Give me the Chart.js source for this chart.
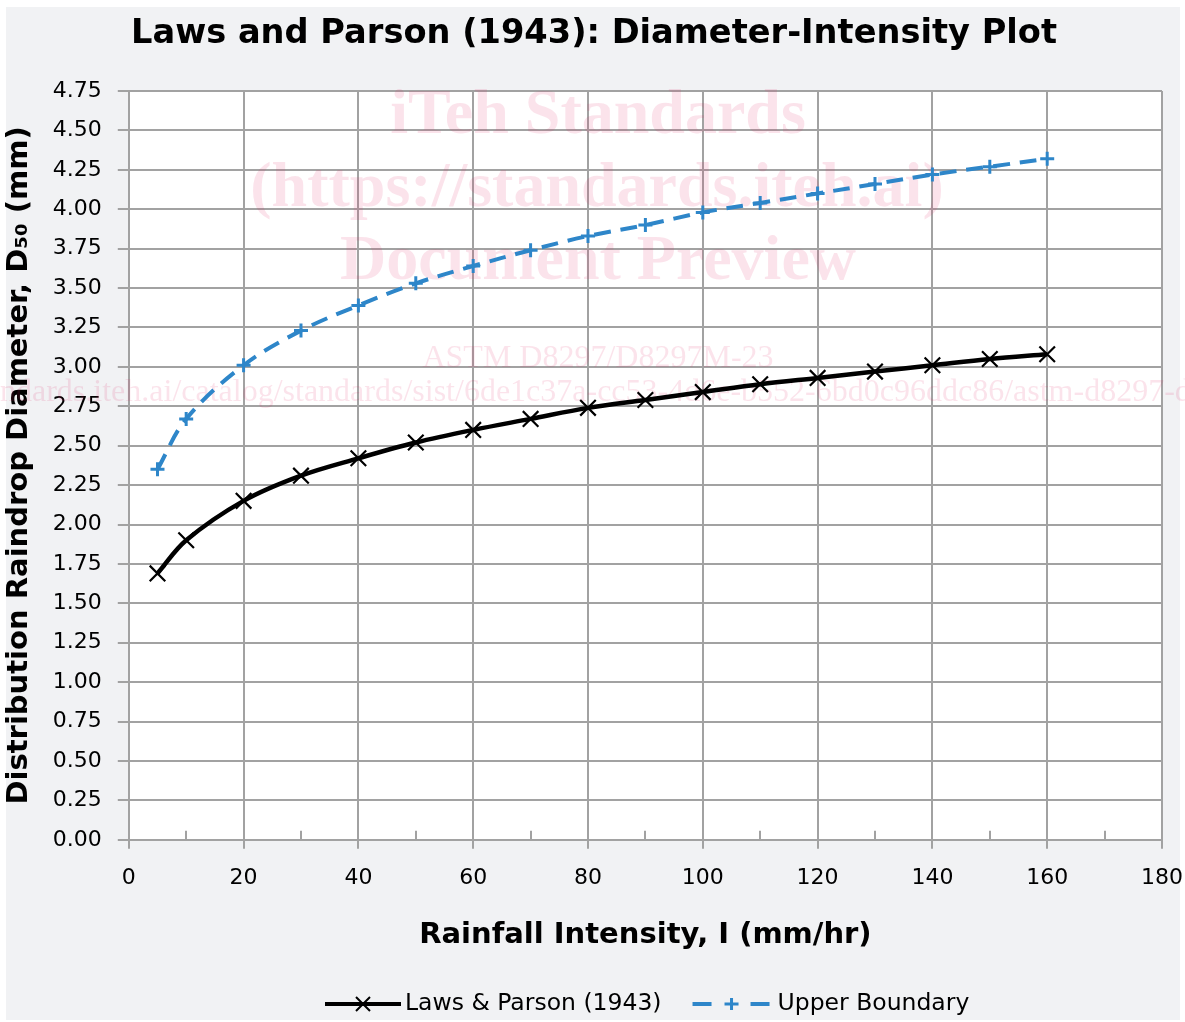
<!DOCTYPE html>
<html><head><meta charset="utf-8">
<script src="https://cdn.jsdelivr.net/npm/chart.js@4.4.1/dist/chart.umd.min.js"></script>
<style>html,body{margin:0;padding:0;background:#fff;overflow:hidden}#wrap{position:absolute;left:0;top:0;width:1185px;height:1022px}</style>
</head><body><div id="wrap"><canvas id="c"></canvas></div>
<script>
// ---- data ----
const intensity = [5,10,20,30,40,50,60,70,80,90,100,110,120,130,140,150,160];
const lawsParson = [1.69,1.90,2.15,2.31,2.42,2.52,2.60,2.67,2.74,2.79,2.84,2.89,2.93,2.97,3.01,3.05,3.08];
const upperBoundary = [2.35,2.67,3.01,3.23,3.39,3.53,3.64,3.74,3.83,3.90,3.98,4.04,4.10,4.16,4.22,4.27,4.32];
const seriesNames = ['Laws & Parson (1943)', 'Upper Boundary'];
const titleText = 'Laws and Parson (1943): Diameter-Intensity Plot';
const xTitle = 'Rainfall Intensity, I (mm/hr)';
const yTitle = 'Distribution Raindrop Diameter, D\u2085\u2080 (mm)';
const xMin = 0, xMax = 180, xStep = 20;
const yMin = 0, yMax = 4.75, yStep = 0.25;
const watermarkLines = ['iTeh Standards','(https://standards.iteh.ai)','Document Preview'];
const watermarkStd = 'ASTM D8297/D8297M-23';
const watermarkUrl = 'https://standards.iteh.ai/catalog/standards/sist/6de1c37a-cc53-4d6e-b552-6bd0c96ddc86/astm-d8297-d8297m-23';

const BLACK = '#000000';
const BLUE = '#2e86c9';
const GRID = '#a2a2a2';
const FONT = "'DejaVu Sans', Verdana, sans-serif";

function xs(a){ return intensity.map((x,i)=>({x:x,y:a[i]})); }

function drawLegendIcon(g, kind, x0, cy){
  g.save();
  if (kind === 0){
    g.strokeStyle = BLACK; g.lineWidth = 4;
    g.beginPath(); g.moveTo(x0,cy); g.lineTo(x0+76,cy); g.stroke();
    g.lineWidth = 2;
    const m = x0+38;
    g.beginPath(); g.moveTo(m-7,cy-7); g.lineTo(m+7,cy+7); g.moveTo(m-7,cy+7); g.lineTo(m+7,cy-7); g.stroke();
  } else {
    g.strokeStyle = BLUE; g.lineWidth = 4;
    g.beginPath(); g.moveTo(x0,cy); g.lineTo(x0+19,cy); g.moveTo(x0+58,cy); g.lineTo(x0+77,cy); g.stroke();
    g.lineWidth = 3;
    const m = x0+39;
    g.beginPath(); g.moveTo(m-7,cy); g.lineTo(m+7,cy); g.moveTo(m,cy-6); g.lineTo(m,cy+6); g.stroke();
  }
  g.restore();
}

const bgPlugin = {
  id:'bg',
  beforeDraw(chart){
    const ctx = chart.ctx, a = chart.chartArea;
    ctx.save();
    ctx.fillStyle = '#ffffff'; ctx.fillRect(0,0,chart.width,chart.height);
    ctx.fillStyle = '#f1f2f4'; ctx.fillRect(6,7,chart.width-11,chart.height-9);
    ctx.fillStyle = '#ffffff'; ctx.fillRect(a.left,a.top,a.right-a.left,a.bottom-a.top);
    ctx.restore();
  },
  beforeDatasetsDraw(chart){
    const ctx = chart.ctx, a = chart.chartArea, sx = chart.scales.x;
    ctx.save();
    // minor ticks on x axis
    ctx.strokeStyle = GRID; ctx.lineWidth = 2;
    for (let v = xMin + xStep/2; v < xMax; v += xStep){
      const p = Math.round(sx.getPixelForValue(v));
      ctx.beginPath(); ctx.moveTo(p, a.bottom); ctx.lineTo(p, a.bottom-9); ctx.stroke();
    }
    // watermark
    ctx.fillStyle = 'rgba(225,40,100,0.13)';
    ctx.textAlign = 'center'; ctx.textBaseline = 'alphabetic';
    ctx.font = "bold 64px 'Liberation Serif', 'DejaVu Serif', serif";
    ctx.fillText(watermarkLines[0], 598, 133);
    ctx.fillText(watermarkLines[1], 597, 206);
    ctx.fillText(watermarkLines[2], 598, 279);
    ctx.font = "32px 'Liberation Serif', 'DejaVu Serif', serif";
    ctx.fillText(watermarkStd, 598, 367);
    ctx.textAlign = 'left';
    const off = ctx.measureText('https://sta').width;
    ctx.fillText(watermarkUrl, -off, 401);
    ctx.restore();
  },
  afterDraw(chart){
    const ctx = chart.ctx;
    ctx.save();
    // title
    ctx.font = "bold 33.5px " + FONT;
    ctx.fillStyle = '#000'; ctx.textAlign = 'center'; ctx.textBaseline = 'alphabetic';
    const tw = ctx.measureText(titleText).width;
    ctx.translate(594, 43);
    ctx.scale(926 / tw, 1);
    ctx.fillText(titleText, 0, 0);
    ctx.restore();
    // legend
    ctx.save();
    ctx.font = "23.5px " + FONT;
    ctx.fillStyle = '#000'; ctx.textAlign = 'left'; ctx.textBaseline = 'middle';
    const cy = 1004;
    let x = 325;
    drawLegendIcon(ctx, 0, x, cy); x += 80;
    ctx.fillText(seriesNames[0], x, cy); x += ctx.measureText(seriesNames[0]).width + 31;
    drawLegendIcon(ctx, 1, x, cy); x += 85;
    ctx.fillText(seriesNames[1], x, cy);
    ctx.restore();
  }
};

new Chart(document.getElementById('c'), {
  type:'line',
  data:{
    datasets:[
      { label: seriesNames[0], data: xs(lawsParson), borderColor: BLACK, backgroundColor: BLACK,
        borderWidth: 4.5, tension: 0.35, pointStyle:'crossRot', pointRadius: 11, pointBorderWidth: 2.2,
        pointBorderColor: BLACK, fill:false },
      { label: seriesNames[1], data: xs(upperBoundary), borderColor: BLUE, backgroundColor: BLUE,
        borderWidth: 4, borderDash:[17,10], tension: 0.35, pointStyle:'cross', pointRadius: 7, pointBorderWidth: 3,
        pointBorderColor: BLUE, fill:false }
    ]
  },
  options:{
    responsive:true, maintainAspectRatio:false, animation:false,
    layout:{ padding:{ left:2, right:23, top:91, bottom:69 } },
    plugins:{
      title:{ display:false },
      legend:{ display:false },
      tooltip:{ enabled:false }
    },
    scales:{
      x:{ type:'linear', min:xMin, max:xMax,
        afterFit(scale){ scale.paddingRight = 0; },
        ticks:{ stepSize:xStep, color:'#000', font:{family:FONT, size:22}, padding:16 },
        grid:{ color:GRID, lineWidth:2, tickLength:9, tickColor:GRID },
        border:{ color:GRID, width:2 },
        title:{ display:true, text:xTitle, color:'#000', font:{family:FONT, size:29, weight:'bold'}, padding:{top:11, bottom:0} } },
      y:{ type:'linear', min:yMin, max:yMax,
        ticks:{ stepSize:yStep, color:'#000', font:{family:FONT, size:22}, padding:16, callback:(v)=>v.toFixed(2) },
        grid:{ color:GRID, lineWidth:2, tickLength:11, tickColor:GRID },
        border:{ color:GRID, width:2 },
        title:{ display:true, text:yTitle, color:'#000', font:{family:FONT, size:29, weight:'bold'}, padding:{top:0, bottom:0} } }
    }
  },
  plugins:[bgPlugin]
});
</script>
</body></html>
